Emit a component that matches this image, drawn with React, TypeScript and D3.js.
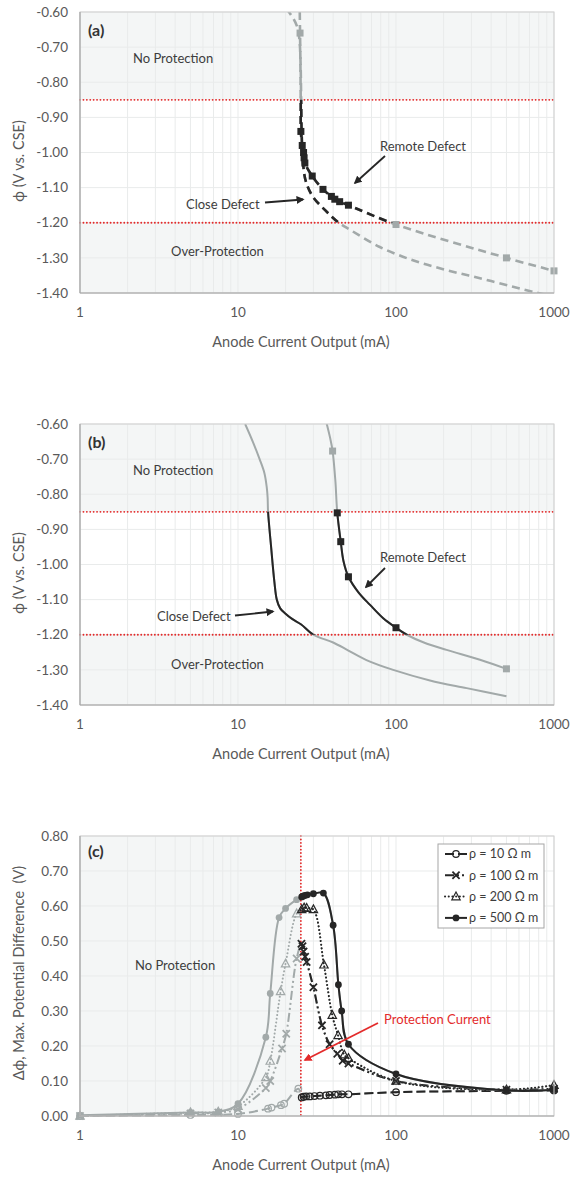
import React from "react";
import * as d3 from "d3";

type Pt = [number, number];

// ---------- data ----------
const currentTicks = [1, 10, 100, 1000];
const phiTicks = [-0.6, -0.7, -0.8, -0.9, -1.0, -1.1, -1.2, -1.3, -1.4];
const dPhiTicks = [0, 0.1, 0.2, 0.3, 0.4, 0.5, 0.6, 0.7, 0.8];

const noProtectionLimit = -0.85;
const overProtectionLimit = -1.2;
const protectionCurrent = 25;

// (a) potential vs. anode current (dashed curves)
const remoteDefectA: Pt[] = [
  [24.6, -0.6], [24.7, -0.66], [24.85, -0.76], [24.95, -0.86], [25.0, -0.94],
  [25.5, -0.98], [26.0, -1.0], [26.2, -1.015], [26.5, -1.03], [29.5, -1.067],
  [34.5, -1.105], [39, -1.125], [41, -1.133], [44, -1.14], [50, -1.15],
  [100, -1.205], [500, -1.3], [1000, -1.337],
];
const remoteDefectAMarkers: Pt[] = [
  [24.7, -0.66], [25.0, -0.94], [25.5, -0.98], [26.0, -1.0], [26.2, -1.015],
  [26.5, -1.03], [29.5, -1.067], [34.5, -1.105], [39, -1.125], [41, -1.133],
  [44, -1.14], [50, -1.15], [100, -1.205], [500, -1.3], [1000, -1.337],
];
const closeDefectA: Pt[] = [
  [20.2, -0.59], [22.5, -0.62], [23.8, -0.645], [24.5, -0.68], [24.9, -0.75],
  [25.1, -0.85], [25.3, -0.95], [25.8, -1.03], [26.9, -1.083], [29.8, -1.126],
  [35.6, -1.164], [42.9, -1.198], [51.2, -1.22], [79, -1.269], [128, -1.307],
  [210, -1.335], [340, -1.358], [550, -1.382], [792, -1.4], [1000, -1.41],
];

// (b) potential vs. anode current (solid curves)
const remoteDefectB: Pt[] = [
  [36.0, -0.59], [38.3, -0.64], [39.7, -0.677], [41.3, -0.76], [42.5, -0.853],
  [44.7, -0.935], [46.5, -0.99], [50, -1.035], [58, -1.08], [68.5, -1.115],
  [83, -1.153], [100, -1.18], [117, -1.2], [150, -1.222], [209, -1.243],
  [340, -1.271], [500, -1.297],
];
const remoteDefectBMarkers: Pt[] = [
  [39.7, -0.677], [42.5, -0.853], [44.7, -0.935], [50, -1.035], [100, -1.18], [500, -1.297],
];
const closeDefectB: Pt[] = [
  [11.1, -0.6], [12.4, -0.65], [13.7, -0.7], [14.7, -0.74], [15.2, -0.78],
  [15.4, -0.81], [15.5, -0.85], [16.2, -0.95], [17.0, -1.05], [17.6, -1.1],
  [18.5, -1.125], [20, -1.14], [22, -1.155], [25, -1.17], [30, -1.2],
  [40, -1.222], [50, -1.245], [65, -1.272], [96, -1.3], [164, -1.33],
  [280, -1.352], [500, -1.375],
];

// (c) maximum potential difference for four soil resistivities
const rho10: Pt[] = [
  [1, 0.0], [5, 0.003], [10, 0.006], [15.5, 0.021], [16.3, 0.024], [18.7, 0.031],
  [19.6, 0.035], [24.1, 0.078], [25.3, 0.053], [26, 0.055], [27, 0.056], [28.5, 0.056],
  [30.5, 0.057], [33, 0.058], [36, 0.059], [38, 0.06], [41, 0.061], [43, 0.062],
  [45.5, 0.062], [50, 0.062], [100, 0.068], [500, 0.072], [1000, 0.073],
];
const rho100: Pt[] = [
  [1, 0.0], [5, 0.007], [7.5, 0.01], [10, 0.02], [15, 0.08], [16, 0.1], [19, 0.193],
  [20.2, 0.235], [23.5, 0.45], [25.2, 0.492], [25.6, 0.485], [26, 0.47], [26.6, 0.455],
  [27.2, 0.44], [30, 0.368], [34, 0.259], [38, 0.205], [42.5, 0.178], [46, 0.158],
  [50, 0.15], [100, 0.1], [500, 0.075], [1000, 0.078],
];
const rho200: Pt[] = [
  [1, 0.0], [5, 0.01], [7.5, 0.012], [10, 0.028], [15, 0.11], [16, 0.157], [18.6, 0.356],
  [20, 0.435], [23.5, 0.578], [25.3, 0.59], [26.2, 0.595], [27.2, 0.594], [30, 0.59],
  [35, 0.432], [39.5, 0.288], [43, 0.23], [47, 0.175], [50, 0.165], [100, 0.1],
  [500, 0.075], [1000, 0.088],
];
const rho500: Pt[] = [
  [1, 0.002], [5, 0.01], [7.5, 0.012], [10, 0.035], [15, 0.225], [16, 0.35], [18.2, 0.567],
  [20, 0.593], [23.5, 0.618], [25.3, 0.626], [25.8, 0.628], [26.5, 0.63], [27.5, 0.632],
  [30, 0.635], [34.7, 0.637], [40, 0.545], [43.2, 0.375], [45.3, 0.3], [50, 0.205],
  [100, 0.12], [500, 0.073], [1000, 0.075],
];
const rhoLabels = ["ρ = 10 Ω m", "ρ = 100 Ω m", "ρ = 200 Ω m", "ρ = 500 Ω m"];

// ---------- layout & styles ----------
const W = 571;
const H = 1180;
const LEFT = 80;
const RIGHT = 554;
const X_TITLE_CENTER = 301;
const FONT = "Lato, 'Open Sans', sans-serif";
const GRAY = "#a2a9a9";
const DARK = "#262626";
const SHADE = "#f4f6f6";
const GRID = "#e9ebeb";
const RED = "#e32b2b";
const AXIS_TEXT = "#595959";
const NOTE_TEXT = "#3d3d3d";

type MarkerKind = "circleOpen" | "cross" | "triangleOpen" | "circle";
const rhoStyles: { dash?: string; cap: "butt" | "round"; marker: MarkerKind }[] = [
  { dash: "9 4", cap: "butt", marker: "circleOpen" },
  { dash: "9 3 2 3 2 3", cap: "butt", marker: "cross" },
  { dash: "0.1 3.6", cap: "round", marker: "triangleOpen" },
  { dash: undefined, cap: "butt", marker: "circle" },
];
const rhoSeries = [rho10, rho100, rho200, rho500];

const xScale = d3.scaleLog().domain([1, 1000]).range([LEFT, RIGHT]);
const gridCurrents = xScale.ticks();

function Marker({ kind, x, y, color }: { kind: MarkerKind; x: number; y: number; color: string }) {
  if (kind === "circleOpen")
    return <circle cx={x} cy={y} r={3.3} fill="none" stroke={color} strokeWidth={1.2} />;
  if (kind === "cross") {
    const s = 3.6;
    return (
      <path
        d={`M${x - s},${y - s}L${x + s},${y + s}M${x - s},${y + s}L${x + s},${y - s}`}
        stroke={color}
        strokeWidth={1.8}
      />
    );
  }
  if (kind === "triangleOpen")
    return (
      <path
        d={`M${x},${y - 4.6}L${x + 4.2},${y + 3.2}L${x - 4.2},${y + 3.2}Z`}
        fill="none"
        stroke={color}
        strokeWidth={1.2}
      />
    );
  return <circle cx={x} cy={y} r={3.4} fill={color} />;
}

function Frame({
  y,
  ticks,
  yTitle,
  yTitleCenter,
}: {
  y: d3.ScaleLinear<number, number>;
  ticks: number[];
  yTitle: string;
  yTitleCenter: number;
}) {
  const [bottom, top] = y.range();
  return (
    <g>
      <rect x={LEFT} y={top} width={RIGHT - LEFT} height={bottom - top} fill="none" stroke="#cfcfcf" strokeWidth={1} />
      <line x1={LEFT} x2={LEFT} y1={top} y2={bottom} stroke="#a6a6a6" strokeWidth={1.2} />
      <line x1={LEFT} x2={RIGHT} y1={bottom} y2={bottom} stroke="#a6a6a6" strokeWidth={1.2} />
      {ticks.map((t) => (
        <text key={t} x={68} y={y(t)} dy="0.35em" textAnchor="end" fontSize={13.5} fill={AXIS_TEXT}>
          {t.toFixed(2)}
        </text>
      ))}
      {currentTicks.map((t) => (
        <text key={t} x={xScale(t)} y={bottom + 19} dy="0.35em" textAnchor="middle" fontSize={13.5} fill={AXIS_TEXT}>
          {t}
        </text>
      ))}
      <text x={X_TITLE_CENTER} y={bottom + 49} dy="0.35em" textAnchor="middle" fontSize={14.5} fill={AXIS_TEXT}>
        Anode Current Output (mA)
      </text>
      <text
        transform={`translate(19,${yTitleCenter}) rotate(-90)`}
        textAnchor="middle"
        dy="0.35em"
        fontSize={14.5}
        fill={AXIS_TEXT}
        style={{ whiteSpace: "pre" }}
      >
        {yTitle}
      </text>
    </g>
  );
}

function Grid({ y, ticks }: { y: d3.ScaleLinear<number, number>; ticks: number[] }) {
  const [bottom, top] = y.range();
  return (
    <g stroke={GRID} strokeWidth={1}>
      {gridCurrents.map((c) => (
        <line key={c} x1={xScale(c)} x2={xScale(c)} y1={top} y2={bottom} />
      ))}
      {ticks.map((t) => (
        <line key={t} x1={LEFT} x2={RIGHT} y1={y(t)} y2={y(t)} />
      ))}
    </g>
  );
}

type Note = { text: string; x: number; y: number };
type Arrow = [number, number, number, number];

function PhiPanel({
  id,
  y,
  tag,
  remote,
  remoteMarkers,
  close,
  dashed,
  notes,
  arrows,
  titleCenter,
}: {
  id: string;
  y: d3.ScaleLinear<number, number>;
  tag: string;
  remote: Pt[];
  remoteMarkers: Pt[];
  close: Pt[];
  dashed: boolean;
  notes: Note[];
  arrows: Arrow[];
  titleCenter: number;
}) {
  const [bottom, top] = y.range();
  const bandTop = y(noProtectionLimit);
  const bandBottom = y(overProtectionLimit);
  const line = d3
    .line<Pt>()
    .x((d) => xScale(d[0]))
    .y((d) => y(d[1]))
    .curve(d3.curveCatmullRom.alpha(0.5));
  const dash = dashed ? "8 5" : undefined;
  const sw = dashed ? 2.6 : 2;
  const ms = 7;
  return (
    <g>
      <defs>
        <clipPath id={`${id}-plot`}>
          <rect x={LEFT} y={top} width={RIGHT - LEFT} height={bottom - top} />
        </clipPath>
        <clipPath id={`${id}-band`}>
          <rect x={LEFT} y={bandTop} width={RIGHT - LEFT} height={bandBottom - bandTop} />
        </clipPath>
      </defs>
      <rect x={LEFT} y={top} width={RIGHT - LEFT} height={bandTop - top} fill={SHADE} />
      <rect x={LEFT} y={bandBottom} width={RIGHT - LEFT} height={bottom - bandBottom} fill={SHADE} />
      <Grid y={y} ticks={phiTicks} />
      {[noProtectionLimit, overProtectionLimit].map((v) => (
        <line
          key={v}
          x1={LEFT}
          x2={RIGHT}
          y1={y(v)}
          y2={y(v)}
          stroke={RED}
          strokeWidth={1.8}
          strokeDasharray="0.1 3.3"
          strokeLinecap="round"
        />
      ))}
      {[close, remote].map((s, i) => {
        const d = line(s) || "";
        return (
          <g key={i} fill="none" strokeWidth={sw} strokeDasharray={dash}>
            <path d={d} stroke={GRAY} clipPath={`url(#${id}-plot)`} />
            <path d={d} stroke={DARK} clipPath={`url(#${id}-band)`} />
          </g>
        );
      })}
      {remoteMarkers.map(([c, v], i) => {
        const inBand = v <= noProtectionLimit + 1e-9 && v >= overProtectionLimit;
        return (
          <rect
            key={i}
            x={xScale(c) - ms / 2}
            y={y(v) - ms / 2}
            width={ms}
            height={ms}
            fill={inBand ? DARK : GRAY}
          />
        );
      })}
      <Frame y={y} ticks={phiTicks} yTitle="ϕ (V vs. CSE)" yTitleCenter={titleCenter} />
      <text x={88} y={top + 24} fontSize={16} fontWeight={700} fill="#333">
        {tag}
      </text>
      {notes.map((n) => (
        <text key={n.text} x={n.x} y={n.y} dy="0.35em" fontSize={13} fill={NOTE_TEXT}>
          {n.text}
        </text>
      ))}
      {arrows.map(([x1, y1, x2, y2], i) => (
        <line key={i} x1={x1} y1={y1} x2={x2} y2={y2} stroke={DARK} strokeWidth={1.8} markerEnd="url(#arrowDark)" />
      ))}
    </g>
  );
}

function DeltaPanel({ y }: { y: d3.ScaleLinear<number, number> }) {
  const [bottom, top] = y.range();
  const xProt = xScale(protectionCurrent);
  const line = d3
    .line<Pt>()
    .x((d) => xScale(d[0]))
    .y((d) => y(d[1]))
    .curve(d3.curveCatmullRom.alpha(0.5));
  const legendX = 438;
  const legendY = 844;
  const rowH = 21.3;
  return (
    <g>
      <defs>
        <clipPath id="c-plot">
          <rect x={LEFT} y={top - 4} width={RIGHT - LEFT} height={bottom - top + 8} />
        </clipPath>
        <clipPath id="c-protected">
          <rect x={xProt} y={top - 4} width={RIGHT - xProt + 6} height={bottom - top + 8} />
        </clipPath>
      </defs>
      <rect x={LEFT} y={top} width={xProt - LEFT} height={bottom - top} fill={SHADE} />
      <Grid y={y} ticks={dPhiTicks} />
      <line
        x1={xProt}
        x2={xProt}
        y1={top}
        y2={bottom}
        stroke={RED}
        strokeWidth={1.8}
        strokeDasharray="0.1 3.3"
        strokeLinecap="round"
      />
      {rhoSeries.map((s, i) => {
        const st = rhoStyles[i];
        const d = line(s) || "";
        return (
          <g key={i}>
            <g fill="none" strokeWidth={2} strokeDasharray={st.dash} strokeLinecap={st.cap}>
              <path d={d} stroke={GRAY} clipPath="url(#c-plot)" />
              <path d={d} stroke={DARK} clipPath="url(#c-protected)" />
            </g>
            {s.map(([c, v], j) => (
              <Marker
                key={j}
                kind={st.marker}
                x={xScale(c)}
                y={y(v)}
                color={c < protectionCurrent ? GRAY : DARK}
              />
            ))}
          </g>
        );
      })}
      <Frame y={y} ticks={dPhiTicks} yTitle="Δϕ, Max. Potential Difference  (V)" yTitleCenter={973} />
      <text x={88} y={top + 21} fontSize={16} fontWeight={700} fill="#333">
        (c)
      </text>
      <text x={135} y={y(0.43)} dy="0.35em" fontSize={13} fill={NOTE_TEXT}>
        No Protection
      </text>
      <text x={384} y={1019} dy="0.35em" fontSize={13} fill={RED}>
        Protection Current
      </text>
      <line x1={378} y1={1023} x2={305} y2={1060} stroke={RED} strokeWidth={1.8} markerEnd="url(#arrowRed)" />
      <g>
        <rect x={legendX} y={legendY} width={106} height={84} fill="#fff" stroke="#a6a6a6" strokeWidth={1} />
        {rhoLabels.map((lab, i) => {
          const st = rhoStyles[i];
          const ry = legendY + 10 + i * rowH;
          return (
            <g key={lab}>
              <line
                x1={legendX + 7}
                x2={legendX + 29}
                y1={ry}
                y2={ry}
                stroke={DARK}
                strokeWidth={2}
                strokeDasharray={st.dash}
                strokeLinecap={st.cap}
              />
              <Marker kind={st.marker} x={legendX + 18} y={ry} color={DARK} />
              <text x={legendX + 31} y={ry} dy="0.35em" fontSize={12.5} fill={NOTE_TEXT}>
                {lab}
              </text>
            </g>
          );
        })}
      </g>
    </g>
  );
}

export default function App() {
  const yA = d3.scaleLinear().domain([-1.4, -0.6]).range([293, 12]);
  const yB = d3.scaleLinear().domain([-1.4, -0.6]).range([705, 424]);
  const yC = d3.scaleLinear().domain([0, 0.8]).range([1116, 836]);
  return (
    <svg
      width={W}
      height={H}
      viewBox={`0 0 ${W} ${H}`}
      style={{ position: "absolute", left: 0, top: 0, background: "#fff" }}
      fontFamily={FONT}
    >
      <defs>
        <marker id="arrowDark" viewBox="0 0 10 10" refX="8" refY="5" markerWidth="4.5" markerHeight="4.5" orient="auto">
          <path d="M0,0L10,5L0,10z" fill={DARK} />
        </marker>
        <marker id="arrowRed" viewBox="0 0 10 10" refX="8" refY="5" markerWidth="4.5" markerHeight="4.5" orient="auto">
          <path d="M0,0L10,5L0,10z" fill={RED} />
        </marker>
      </defs>
      <rect x={0} y={0} width={W} height={H} fill="#fff" />
      <PhiPanel
        id="a"
        y={yA}
        tag="(a)"
        remote={remoteDefectA}
        remoteMarkers={remoteDefectAMarkers}
        close={closeDefectA}
        dashed={true}
        titleCenter={161}
        notes={[
          { text: "No Protection", x: 133, y: 58 },
          { text: "Remote Defect", x: 380, y: 146 },
          { text: "Close Defect", x: 186, y: 204 },
          { text: "Over-Protection", x: 171, y: 251 },
        ]}
        arrows={[
          [385, 156, 355, 183],
          [265, 202.5, 303, 199.5],
        ]}
      />
      <PhiPanel
        id="b"
        y={yB}
        tag="(b)"
        remote={remoteDefectB}
        remoteMarkers={remoteDefectBMarkers}
        close={closeDefectB}
        dashed={false}
        titleCenter={573}
        notes={[
          { text: "No Protection", x: 133, y: 470 },
          { text: "Remote Defect", x: 380, y: 557 },
          { text: "Close Defect", x: 157, y: 616 },
          { text: "Over-Protection", x: 171, y: 664 },
        ]}
        arrows={[
          [385, 568, 366, 587],
          [235, 615.5, 273, 611.5],
        ]}
      />
      <DeltaPanel y={yC} />
    </svg>
  );
}
